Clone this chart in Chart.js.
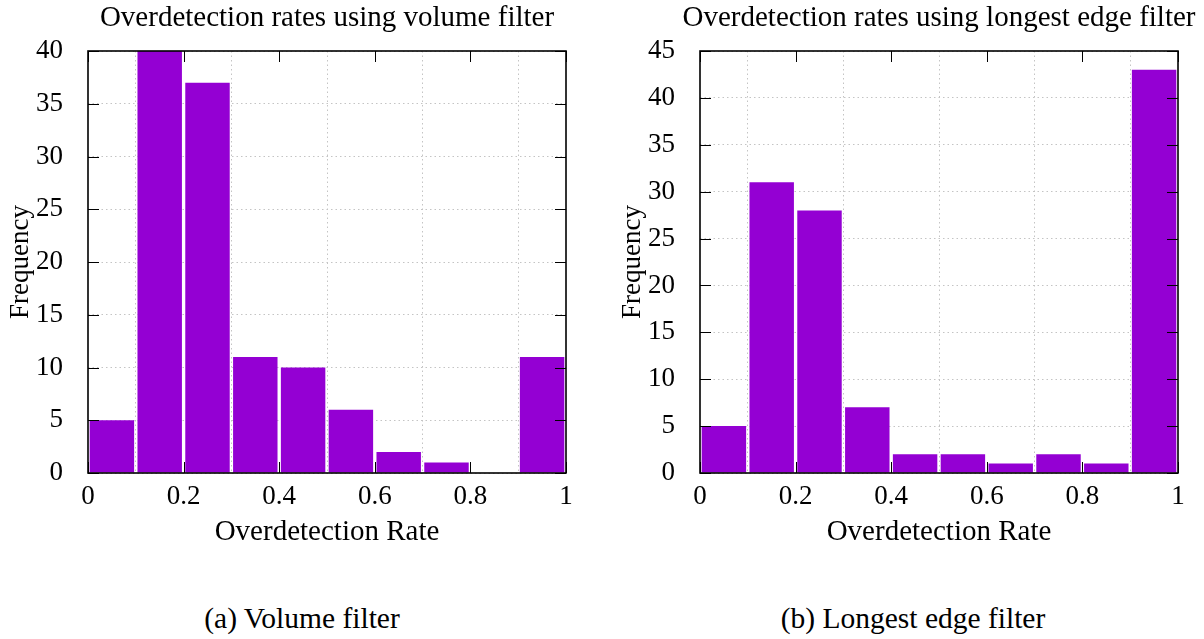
<!DOCTYPE html>
<html>
<head>
<meta charset="utf-8">
<script src="https://cdn.jsdelivr.net/npm/chart.js@4.4.0/dist/chart.umd.min.js"></script>
<style>
  body { margin: 0; background: #fff; width: 1204px; height: 639px; position: relative; overflow: hidden; font-family: "Liberation Serif", serif; }
  canvas { position: absolute; top: 0; }
  #chartA { left: 0; }
  #chartB { left: 612px; }
  .caption { position: absolute; top: 602px; font-size: 29.5px; transform: translateX(-50%); white-space: nowrap; color: #000; }
</style>
</head>
<body>
<canvas id="chartA" width="600" height="560"></canvas>
<canvas id="chartB" width="592" height="560"></canvas>
<div class="caption" style="left:302px">(a) Volume filter</div>
<div class="caption" style="left:913px">(b) Longest edge filter</div>
<script>
// bin centres of the histogram (bin width 0.1)
const binCenters = [0.05, 0.15, 0.25, 0.35, 0.45, 0.55, 0.65, 0.75, 0.85, 0.95];
const volumeCounts = [5, 40, 37, 11, 10, 6, 2, 1, 0, 11];
const edgeCounts = [5, 31, 28, 7, 2, 2, 1, 2, 1, 43];

const xTicks = [0, 0.2, 0.4, 0.6, 0.8, 1];
const xTickLabels = ['0', '0.2', '0.4', '0.6', '0.8', '1'];
const volumeYTicks = [0, 5, 10, 15, 20, 25, 30, 35, 40];
const edgeYTicks = [0, 5, 10, 15, 20, 25, 30, 35, 40, 45];

const FONT = "'Liberation Serif', serif";
const PURPLE = '#9400d3';

// gnuplot style frame: black border plus inward ticks on all four sides
const frameTicks = {
    id: 'frameTicks',
    afterDatasetsDraw(chart) {
        const { ctx, chartArea: a, scales: { x, y } } = chart;
        const L = 11;
        ctx.save();
        ctx.strokeStyle = '#000';
        ctx.lineWidth = 1;
        ctx.beginPath();
        x.ticks.forEach(t => {
            const px = Math.round(x.getPixelForValue(t.value)) + 0.5;
            ctx.moveTo(px, a.bottom); ctx.lineTo(px, a.bottom - L);
            ctx.moveTo(px, a.top); ctx.lineTo(px, a.top + L);
        });
        y.ticks.forEach(t => {
            const py = Math.round(y.getPixelForValue(t.value)) + 0.5;
            ctx.moveTo(a.left, py); ctx.lineTo(a.left + L, py);
            ctx.moveTo(a.right, py); ctx.lineTo(a.right - L, py);
        });
        ctx.stroke();
        ctx.lineWidth = 1.6;
        ctx.strokeRect(a.left, a.top, a.right - a.left, a.bottom - a.top);
        ctx.restore();
    }
};

// title centred over the plot area, allowed to run past it (no squeezing)
const plotTitle = {
    id: 'plotTitle',
    afterDraw(chart, args, opts) {
        const { ctx, chartArea: a } = chart;
        ctx.save();
        ctx.fillStyle = '#000';
        ctx.font = '29px ' + FONT;
        ctx.textAlign = 'center';
        ctx.textBaseline = 'middle';
        ctx.fillText(opts.text, (a.left + a.right) / 2, 18);
        ctx.restore();
    }
};

function makeChart(id, title, counts, yTicks, rightPad) {
    return new Chart(document.getElementById(id), {
        type: 'bar',
        data: {
            datasets: [{
                data: binCenters.map((c, i) => ({ x: c, y: counts[i] })),
                backgroundColor: PURPLE,
                borderWidth: 0,
                categoryPercentage: 1,
                barPercentage: 0.93
            }]
        },
        options: {
            responsive: false,
            animation: false,
            devicePixelRatio: 1,
            layout: { padding: { left: 0, right: rightPad, top: 51, bottom: 0 } },
            plugins: {
                legend: { display: false },
                tooltip: { enabled: false },
                title: { display: false },
                plotTitle: { text: title }
            },
            scales: {
                x: {
                    type: 'linear',
                    min: 0,
                    max: 1,
                    offset: false,
                    afterBuildTicks: s => { s.ticks = xTicks.map(v => ({ value: v })); },
                    afterFit: s => { s.height = 87; },
                    grid: { color: '#c4c4c4', lineWidth: 1, drawTicks: false },
                    border: { display: false, dash: [1.5, 3] },
                    ticks: {
                        color: '#000',
                        padding: 8,
                        maxRotation: 0,
                        font: { family: FONT, size: 27 },
                        callback: (v, i) => xTickLabels[i]
                    },
                    title: {
                        display: true,
                        text: 'Overdetection Rate',
                        color: '#000',
                        font: { family: FONT, size: 29 },
                        padding: { top: 0, bottom: 10 }
                    }
                },
                y: {
                    min: yTicks[0],
                    max: yTicks[yTicks.length - 1],
                    afterBuildTicks: s => { s.ticks = yTicks.map(v => ({ value: v })); },
                    afterFit: s => { s.width = 88; },
                    grid: { color: '#c4c4c4', lineWidth: 1, drawTicks: false },
                    border: { display: false, dash: [1.5, 3] },
                    ticks: {
                        color: '#000',
                        padding: 25,
                        font: { family: FONT, size: 27 }
                    },
                    title: {
                        display: true,
                        text: 'Frequency',
                        color: '#000',
                        font: { family: FONT, size: 27 },
                        padding: { top: 5, bottom: 0 }
                    }
                }
            }
        },
        plugins: [frameTicks, plotTitle]
    });
}

makeChart('chartA', 'Overdetection rates using volume filter', volumeCounts, volumeYTicks, 34);
makeChart('chartB', 'Overdetection rates using longest edge filter', edgeCounts, edgeYTicks, 26);
</script>
</body>
</html>
